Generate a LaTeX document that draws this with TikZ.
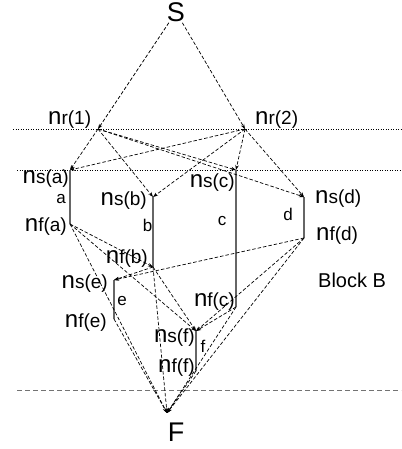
\documentclass[tikz,border=0pt]{standalone}
\usepackage{fontspec}
\setmainfont{Liberation Sans}
\usetikzlibrary{arrows.meta}

% node label: large "n" followed by the subscript-like tag
\newcommand{\nlab}[2]{{\fontsize{24}{24}\selectfont n}{\fontsize{19}{19}\selectfont #1(#2)}}

\tikzset{
  dep/.style={draw, dash pattern=on 3.5pt off 2pt, line width=0.7pt,
              -{Stealth[length=5pt,width=3.6pt]}},
  taskline/.style={draw=black!60, line width=1.3pt},
  lvl/.style={draw, dash pattern=on 1pt off 1.5pt, line width=0.65pt},
  cutline/.style={draw=black!55, dash pattern=on 5pt off 3pt, line width=0.8pt},
  lab/.style={inner sep=0pt},
  tasklab/.style={inner sep=0pt, font=\fontsize{17}{17}\selectfont},
  big/.style={inner sep=1pt, font=\fontsize{27}{27}\selectfont},
}

\begin{document}
\begin{tikzpicture}[x=1pt,y=-1pt]
\useasboundingbox (0,0) rectangle (401,449);

% level lines
\draw[lvl] (13,129) -- (401,129);
\draw[lvl] (17,170) -- (401,170);
\draw[cutline] (17,390) -- (401,390);

% source and sink
\node[big] (S) at (176,12) {S};
\coordinate (Fp) at (167,413);
\node[big] (F) at (176,432) {F};

% resource nodes
\coordinate (r1) at (98,129);
\coordinate (r2) at (245,129);
\node[lab, anchor=base west] (lr1) at (48,125) {\nlab{r}{1}};
\node[lab, anchor=base west] (lr2) at (255,125) {\nlab{r}{2}};

% task start / finish points
\coordinate (sa) at (70,170);  \coordinate (fa) at (70,224);
\coordinate (sb) at (153,197); \coordinate (fb) at (153,267);
\coordinate (sc) at (236,170); \coordinate (fc) at (236,307);
\coordinate (sd) at (304,197); \coordinate (fd) at (304,238);
\coordinate (se) at (114,280); \coordinate (fe) at (114,319);
\coordinate (sf) at (196,331); \coordinate (ff) at (196,371);

% task bars
\foreach \t in {a,b,c,d,e,f} \draw[taskline] (s\t) -- (f\t);

% point labels
\node[lab, anchor=base east] (lsa) at (69,183)  {\nlab{s}{a}};
\node[lab, anchor=base east] (lfa) at (67,231)  {\nlab{f}{a}};
\node[lab, anchor=base east] (lsb) at (147,205) {\nlab{s}{b}};
\node[lab, anchor=base east] (lfb) at (148,263) {\nlab{f}{b}};
\node[lab, anchor=base east] (lsc) at (235,187) {\nlab{s}{c}};
\node[lab, anchor=base east] (lfc) at (235,306) {\nlab{f}{c}};
\node[lab, anchor=base west] (lsd) at (315,203) {\nlab{s}{d}};
\node[lab, anchor=base west] (lfd) at (316,240) {\nlab{f}{d}};
\node[lab, anchor=base east] (lse) at (108,288) {\nlab{s}{e}};
\node[lab, anchor=base east] (lfe) at (107,327) {\nlab{f}{e}};
\node[lab, anchor=base east] (lsf) at (195,342) {\nlab{s}{f}};
\node[lab, anchor=base east] (lff) at (195,372) {\nlab{f}{f}};

% task names
\node[tasklab, anchor=base] (ta) at (61,203)   {a};
\node[tasklab, anchor=base] (tb) at (147.5,231) {b};
\node[tasklab, anchor=base] (tc) at (222,225)  {c};
\node[tasklab, anchor=base] (td) at (288,220)  {d};
\node[tasklab, anchor=base] (te) at (122,305)  {e};
\node[tasklab, anchor=base] (tf) at (203,352)  {f};

\node[lab, anchor=base west, font=\fontsize{20}{20}\selectfont] (blk) at (318,287) {Block B};

% source to resources
\draw[dep] (S) -- (r1);
\draw[dep] (S) -- (r2);

% resources to task starts
\foreach \t in {a,b,c,d} {
  \draw[dep] (r1) -- (s\t);
  \draw[dep] (r2) -- (s\t);
}

% precedence arcs
\draw[dep] (fa) -- (fb);
\draw[dep] (fa) -- (sf);
\draw[dep] (fb) -- (se);
\draw[dep] (fb) -- (sf);
\draw[dep] (fd) -- (se);
\draw[dep] (fd) -- (sf);
\draw[dep] (fc) -- (sf);

% finishes to sink
\foreach \t in {a,b,c,d,e,f} \draw[dep] (f\t) -- (Fp);
\end{tikzpicture}
\end{document}
